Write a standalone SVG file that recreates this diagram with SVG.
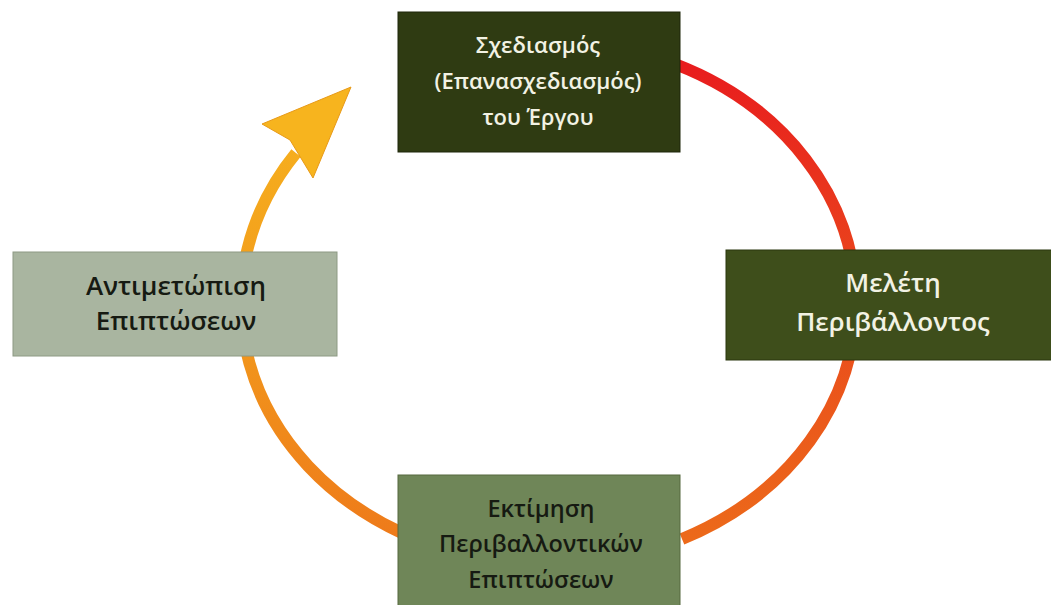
<svg xmlns="http://www.w3.org/2000/svg" width="1051" height="605" viewBox="0 0 1051 605">
<defs>
<linearGradient id="gRight" x1="0" y1="60" x2="0" y2="545" gradientUnits="userSpaceOnUse">
<stop offset="0" stop-color="#e81c1e"/>
<stop offset="0.5" stop-color="#ea4a1c"/>
<stop offset="1" stop-color="#ec6a1a"/>
</linearGradient>
<linearGradient id="gLeft" x1="0" y1="540" x2="0" y2="90" gradientUnits="userSpaceOnUse">
<stop offset="0" stop-color="#ee7a1a"/>
<stop offset="0.5" stop-color="#f29a1c"/>
<stop offset="1" stop-color="#f7b41e"/>
</linearGradient>
</defs>
<style>
.lbl{font-family:"Open Sans","Noto Sans","DejaVu Sans",sans-serif;text-anchor:middle;font-weight:600}
.light{fill:#f2f2e4}
.dark{fill:#161a12}
</style>
<rect width="1051" height="605" fill="#ffffff"/>
<g id="connectors" fill="none" stroke-linecap="butt">
<path d="M 675 64 A 307 262 0 0 1 682 539" stroke="url(#gRight)" stroke-width="12"/>
<path d="M 402 533 A 307 262 0 0 1 296 153" stroke="url(#gLeft)" stroke-width="12"/>
<polygon points="351,87 262,124 290,140 313,178" fill="#f7b41e" stroke="#e89a18" stroke-width="1"/>
</g>
<g id="node-design">
<rect x="398" y="12" width="282" height="140" fill="#2f3b12" stroke="#1e260a" stroke-width="1"/>
<text class="lbl light" font-size="22" x="538" y="53">Σχεδιασμός</text>
<text class="lbl light" font-size="22" x="538" y="89">(Επανασχεδιασμός)</text>
<text class="lbl light" font-size="22" x="538" y="125">του Έργου</text>
</g>
<g id="node-study">
<rect x="726" y="250" width="330" height="110" fill="#3e4e1b" stroke="#2a360f" stroke-width="1"/>
<text class="lbl light" font-size="26" x="893" y="292">Μελέτη</text>
<text class="lbl light" font-size="26" x="893" y="331">Περιβάλλοντος</text>
</g>
<g id="node-assessment">
<rect x="398" y="475" width="282" height="135" fill="#6f8658" stroke="#56693f" stroke-width="1"/>
<text class="lbl dark" font-size="23.5" x="541" y="517">Εκτίμηση</text>
<text class="lbl dark" font-size="23.5" x="541" y="552">Περιβαλλοντικών</text>
<text class="lbl dark" font-size="23.5" x="541" y="588">Επιπτώσεων</text>
</g>
<g id="node-response">
<rect x="13" y="252" width="324" height="104" fill="#a9b5a0" stroke="#8d9a84" stroke-width="1"/>
<text class="lbl dark" font-size="26" x="176" y="295">Αντιμετώπιση</text>
<text class="lbl dark" font-size="26" x="176" y="330">Επιπτώσεων</text>
</g>
</svg>
